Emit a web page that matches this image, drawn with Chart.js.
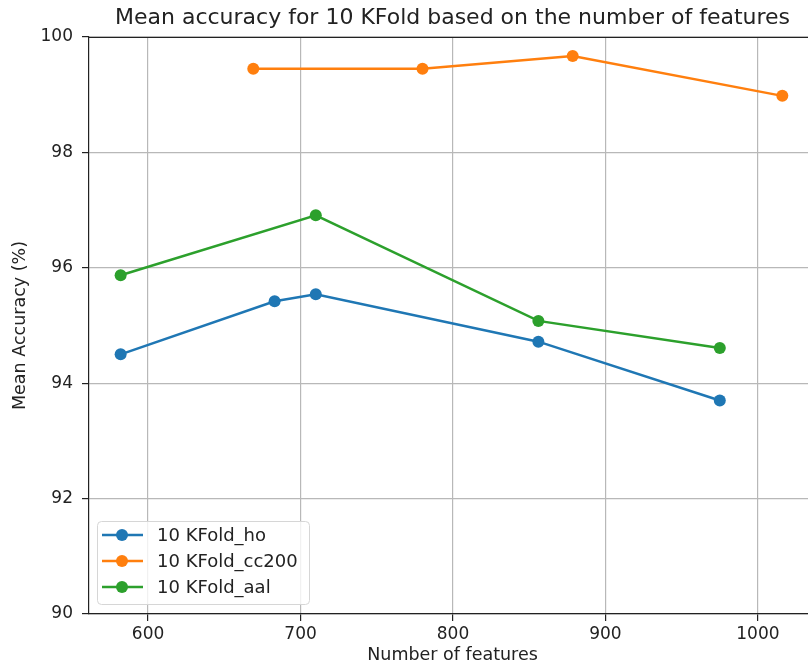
<!DOCTYPE html>
<html><head><meta charset="utf-8">
<script src="https://cdn.jsdelivr.net/npm/chart.js@4/dist/chart.umd.min.js"></script>
<style>html,body{margin:0;padding:0;overflow:hidden;background:#fff}canvas{display:block}</style>
</head><body>
<canvas id="c" width="822" height="671"></canvas>
<script>
const chartTitle = "Mean accuracy for 10 KFold based on the number of features";
const xTitle = "Number of features";
const yTitle = "Mean Accuracy (%)";
const seriesNames = ["10 KFold_ho", "10 KFold_cc200", "10 KFold_aal"];
const seriesColors = ["#1f77b4", "#ff7f0e", "#2ca02c"];
const hoX = [582, 683, 710, 856, 975];
const hoY = [94.50, 95.42, 95.54, 94.72, 93.70];
const cc200X = [669, 780, 878.5, 1016];
const cc200Y = [99.45, 99.45, 99.67, 98.98];
const aalX = [582, 710, 856, 975];
const aalY = [95.87, 96.91, 95.08, 94.61];
const xTicks = [600, 700, 800, 900, 1000];
const yTicks = [90, 92, 94, 96, 98, 100];
const xRange = [561.25, 1038.1];
const yRange = [90, 100];

const pts = (xs, ys) => xs.map((x, i) => ({x: x, y: ys[i]}));
const seriesData = [pts(hoX, hoY), pts(cc200X, cc200Y), pts(aalX, aalY)];

const FONT = "DejaVu Sans";
const TXT = "#222";

const framePlugin = {
  id: 'frame',
  afterDraw(chart) {
    const {ctx, chartArea: a} = chart;
    ctx.save();
    ctx.strokeStyle = "#222"; ctx.lineWidth = 1.2;
    ctx.beginPath(); ctx.moveTo(a.left, a.top + 0.5); ctx.lineTo(a.right, a.top + 0.5); ctx.stroke();
    ctx.fillStyle = TXT; ctx.font = "22px '" + FONT + "'";
    ctx.textAlign = "center"; ctx.textBaseline = "middle";
    ctx.fillText(chartTitle, (a.left + a.right) / 2, 18);
    const lx = 97, ly = 521, lw = 212, lh = 83, r = 4;
    ctx.globalAlpha = 0.8; ctx.fillStyle = "#fff";
    ctx.beginPath(); ctx.roundRect(lx, ly, lw, lh, r); ctx.fill();
    ctx.globalAlpha = 1; ctx.strokeStyle = "#d6d6d6"; ctx.lineWidth = 1;
    ctx.beginPath(); ctx.roundRect(lx + 0.5, ly + 0.5, lw, lh, r); ctx.stroke();
    ctx.font = "18px '" + FONT + "'"; ctx.textAlign = "left";
    seriesNames.forEach((name, i) => {
      const y = 535 + i * 26;
      ctx.strokeStyle = seriesColors[i]; ctx.lineWidth = 2.5;
      ctx.beginPath(); ctx.moveTo(102, y); ctx.lineTo(143, y); ctx.stroke();
      ctx.fillStyle = seriesColors[i];
      ctx.beginPath(); ctx.arc(122, y, 6, 0, Math.PI * 2); ctx.fill();
      ctx.fillStyle = TXT;
      ctx.fillText(name, 157, y + 1);
    });
    ctx.restore();
  }
};

new Chart(document.getElementById('c'), {
  type: 'line',
  data: {
    datasets: seriesNames.map((n, i) => ({
      label: n,
      data: seriesData[i],
      borderColor: seriesColors[i],
      backgroundColor: seriesColors[i],
      pointBackgroundColor: seriesColors[i],
      pointBorderWidth: 0,
      pointRadius: 6,
      borderWidth: 2.5,
      tension: 0,
      fill: false
    }))
  },
  options: {
    responsive: false,
    animation: false,
    layout: {padding: {top: 37, right: 0, left: 0, bottom: 0}},
    plugins: {legend: {display: false}, tooltip: {enabled: false}, title: {display: false}},
    scales: {
      x: {
        type: 'linear', min: xRange[0], max: xRange[1],
        afterBuildTicks: ax => { ax.ticks = xTicks.map(v => ({value: v})); },
        afterFit: ax => { ax.height = 57; ax.paddingLeft = 0; ax.paddingRight = 0; },
        grid: {color: "#b8b8b8", lineWidth: 1.2, tickLength: 7, tickColor: "#222", drawTicks: true},
        border: {color: "#222", width: 1.2},
        ticks: {font: {family: FONT, size: 17}, color: TXT, padding: 3, maxRotation: 0, callback: v => String(v)},
        title: {display: true, text: xTitle, font: {family: FONT, size: 17.5}, color: TXT, padding: {top: 0, bottom: 5}}
      },
      y: {
        type: 'linear', min: yRange[0], max: yRange[1],
        afterBuildTicks: ax => { ax.ticks = yTicks.map(v => ({value: v})); },
        afterFit: ax => { ax.width = 89; },
        grid: {color: "#b8b8b8", lineWidth: 1.2, tickLength: 7, tickColor: "#222", drawTicks: true},
        border: {color: "#222", width: 1.2},
        ticks: {font: {family: FONT, size: 17}, color: TXT, padding: 9, callback: v => String(v)},
        title: {display: true, text: yTitle, font: {family: FONT, size: 17.5}, color: TXT, padding: {top: 10, bottom: 0}}
      }
    }
  },
  plugins: [framePlugin]
});
</script>
</body></html>
